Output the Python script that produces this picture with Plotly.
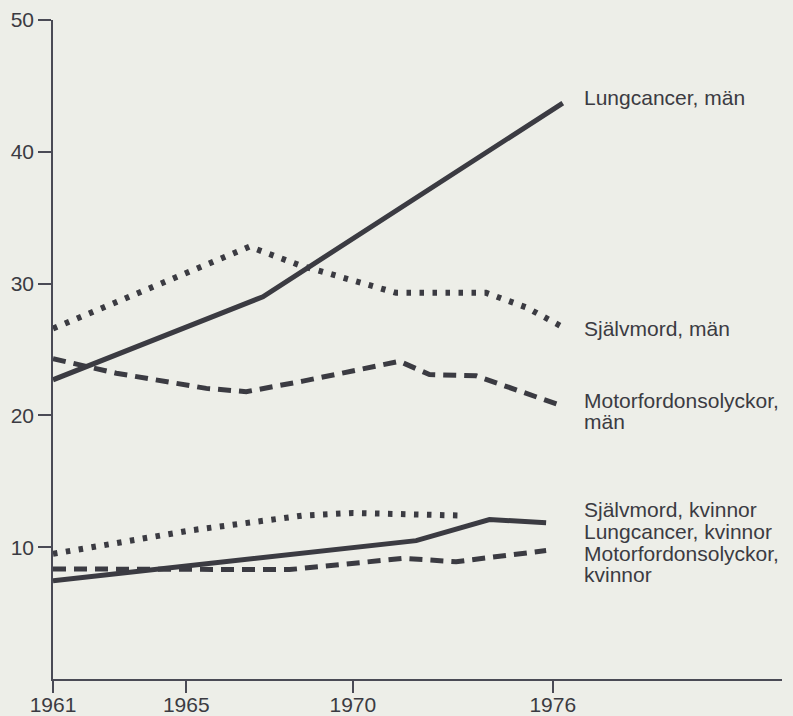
import plotly.graph_objects as go

# ---- data (rate per 100 000) ----
lung_men_years = [1961, 1967.3, 1976.3]
lung_men = [22.7, 29.0, 43.7]

suicide_men_years = [1961, 1966.9, 1968.4, 1971.3, 1974.0, 1975.2, 1976.3]
suicide_men = [26.6, 32.8, 31.4, 29.3, 29.3, 28.2, 26.7]

motor_men_years = [1961, 1962.9, 1965.6, 1966.8, 1968.5, 1971.4, 1972.3, 1973.7, 1976.3]
motor_men = [24.3, 23.2, 22.05, 21.8, 22.6, 24.1, 23.1, 23.0, 20.7]

suicide_women_years = [1961, 1965.2, 1968.5, 1970.0, 1973.3]
suicide_women = [9.5, 11.3, 12.4, 12.6, 12.4]

lung_women_years = [1961, 1971.9, 1974.1, 1975.8]
lung_women = [7.45, 10.5, 12.1, 11.85]

motor_women_years = [1961, 1968.1, 1971.5, 1973.1, 1975.8]
motor_women = [8.35, 8.3, 9.15, 8.9, 9.75]

x_ticks = [1961, 1965, 1970, 1976]
y_ticks = [10, 20, 30, 40, 50]

labels = [
    ("Lungcancer, män", 44.1),
    ("Självmord, män", 26.6),
    ("Motorfordonsolyckor,", 21.15),
    ("män", 19.5),
    ("Självmord, kvinnor", 12.85),
    ("Lungcancer, kvinnor", 11.2),
    ("Motorfordonsolyckor,", 9.55),
    ("kvinnor", 7.9),
]
label_x = 1976.87

# ---- styling ----
ink = "#3b3b42"
axis_col = "#4a4a55"
bg = "#edeee8"
font_family = "Liberation Sans, Arial, sans-serif"

solid = dict(color=ink, width=5)
dashed = dict(color=ink, width=5, dash="13px,8px")
dotted = dict(color=ink, width=6, dash="4.5px,8.5px")

fig = go.Figure()
series = [
    (lung_men_years, lung_men, solid),
    (suicide_men_years, suicide_men, dotted),
    (motor_men_years, motor_men, dashed),
    (suicide_women_years, suicide_women, dotted),
    (lung_women_years, lung_women, solid),
    (motor_women_years, motor_women, dashed),
]
for xs, ys, ln in series:
    fig.add_trace(go.Scatter(x=xs, y=ys, mode="lines", line=ln,
                             showlegend=False, hoverinfo="skip"))

for text, yv in labels:
    fig.add_annotation(x=label_x, y=yv, xref="x", yref="y", text=text,
                       showarrow=False, xanchor="left", yanchor="middle",
                       font=dict(family=font_family, size=21, color=ink))

fig.update_layout(
    width=793, height=716,
    margin=dict(l=53, r=11, t=20, b=37, autoexpand=False),
    paper_bgcolor=bg, plot_bgcolor=bg,
    font=dict(family=font_family, size=21, color=ink),
    xaxis=dict(range=[1961, 1982.88], tickvals=x_ticks, ticktext=[str(v) for v in x_ticks],
               showgrid=False, zeroline=False, showline=True, linecolor=axis_col,
               linewidth=1.5, ticks="outside", ticklen=12, tickwidth=1.5,
               tickcolor=axis_col, tickfont=dict(size=21, color=ink), automargin=False,
               ticklabelstandoff=-6),
    yaxis=dict(range=[0, 50], tickvals=y_ticks, showgrid=False, zeroline=False,
               showline=True, linecolor=axis_col, linewidth=1.5, ticks="outside",
               ticklen=13, tickwidth=1.5, tickcolor=axis_col,
               tickfont=dict(size=21, color=ink), automargin=False),
)

page_js = (
    "document.documentElement.style.margin='0';"
    "document.documentElement.style.overflow='hidden';"
    "document.body.style.margin='0';"
    "document.body.style.padding='0';"
    "document.body.style.background='" + bg + "';"
)
fig.write_html("out.html", post_script=page_js, config={"displayModeBar": False})
